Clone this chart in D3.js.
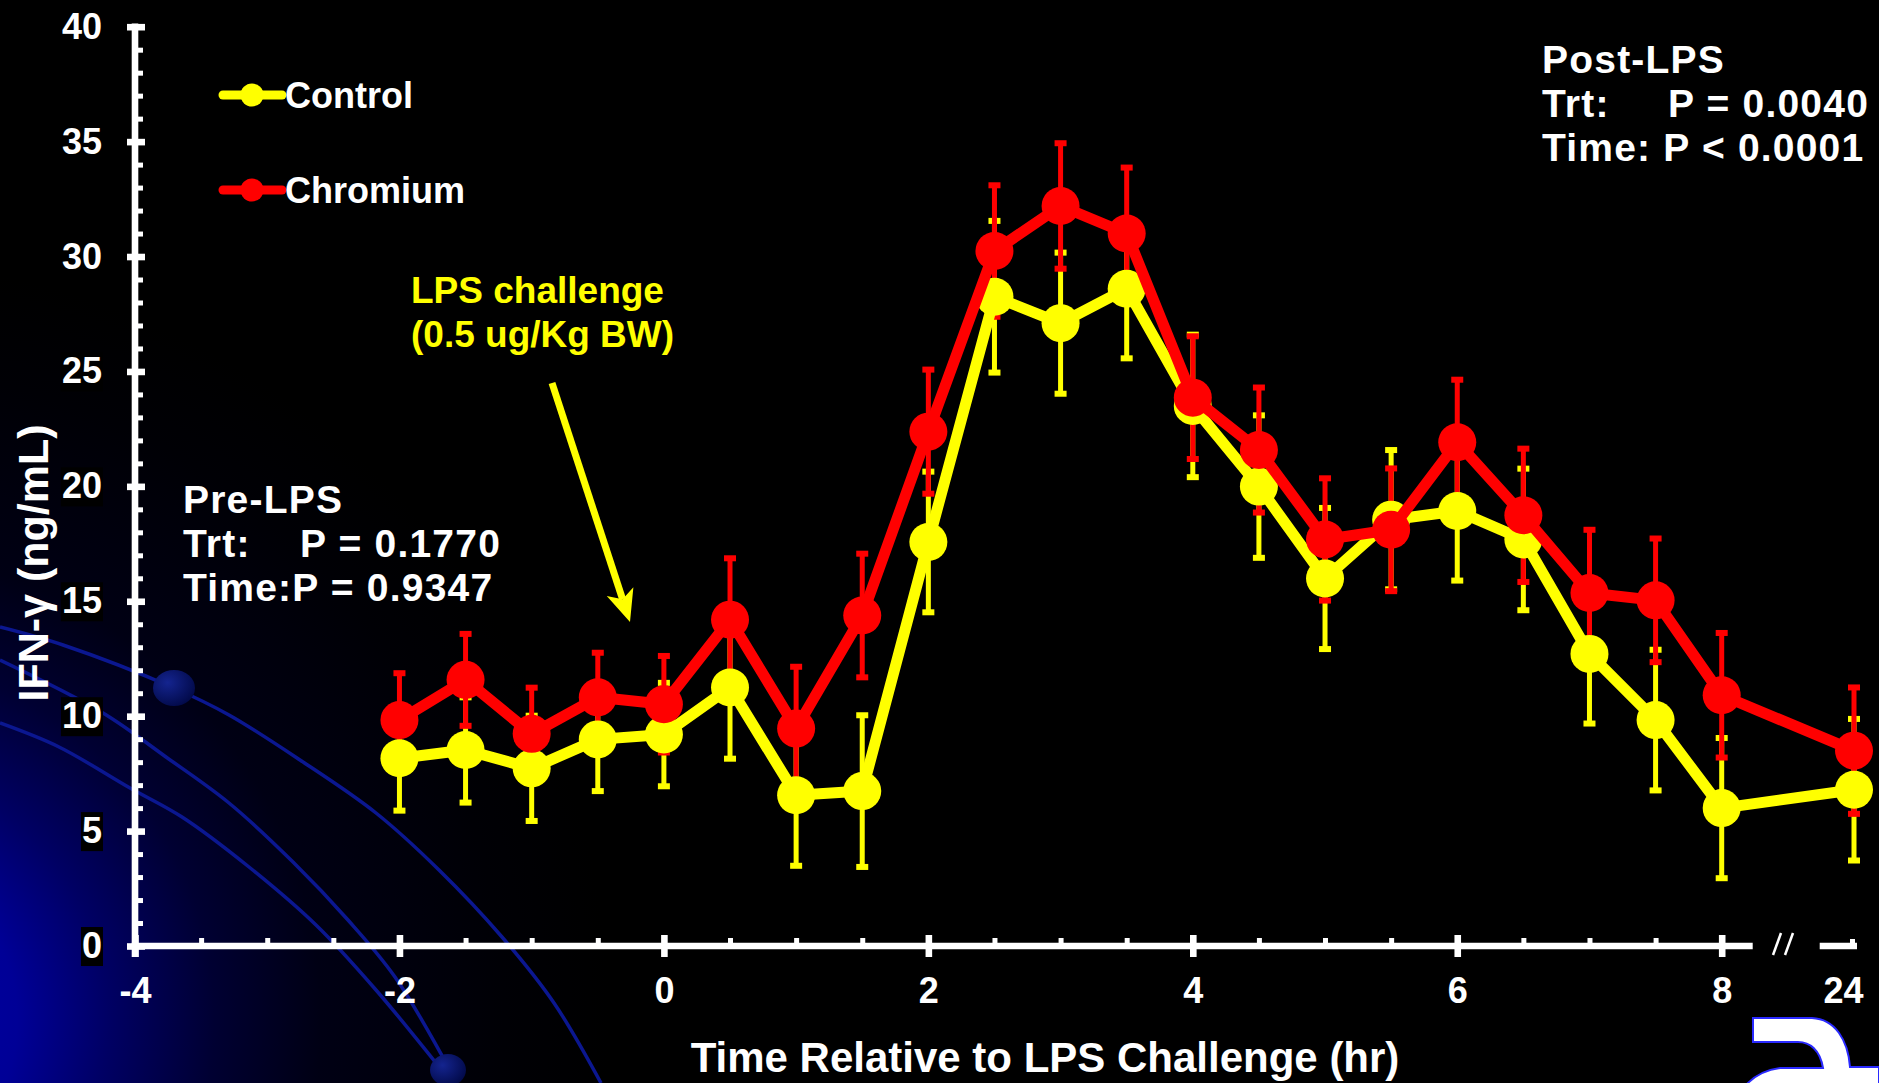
<!DOCTYPE html>
<html>
<head>
<meta charset="utf-8">
<script src="https://cdn.jsdelivr.net/npm/d3@7"></script>
<style>
  html, body { margin: 0; padding: 0; background: #000; overflow: hidden; }
  svg text { font-family: "Liberation Sans", Arial, sans-serif; font-weight: bold; }
</style>
</head>
<body>
<svg id="chart" width="1879" height="1083"></svg>
<script>
// ---- data: IFN-γ (ng/mL), mean ± SE, by time relative to LPS challenge (hr) ----
const times        = [-2, -1.5, -1, -0.5, 0, 0.5, 1, 1.5, 2, 2.5, 3, 3.5, 4, 4.5, 5, 5.5, 6, 6.5, 7, 7.5, 8, 24];
const controlMean  = [8.17, 8.53, 7.73, 8.99, 9.20, 11.25, 6.56, 6.74, 17.58, 28.25, 27.10, 28.60, 23.50, 19.99, 15.99, 18.55, 18.93, 17.69, 12.71, 9.83, 6.00, 6.80];
const controlSE    = [2.28, 2.29, 2.29, 2.25, 2.25, 3.10, 3.07, 3.30, 3.06, 3.30, 3.07, 3.03, 3.10, 3.10, 3.07, 3.03, 3.03, 3.08, 3.03, 3.06, 3.05, 3.08];
const chromiumMean = [9.83, 11.58, 9.23, 10.82, 10.52, 14.20, 9.46, 14.38, 22.38, 30.24, 32.20, 31.00, 23.86, 21.58, 17.69, 18.11, 21.92, 18.74, 15.36, 15.04, 10.91, 8.50];
const chromiumSE   = [2.04, 2.00, 2.01, 1.94, 2.10, 2.67, 2.69, 2.69, 2.70, 2.86, 2.73, 2.87, 2.67, 2.72, 2.66, 2.67, 2.72, 2.90, 2.75, 2.69, 2.71, 2.75];

const seriesNames  = ["Control", "Chromium"];
const seriesColors = ["#ffff00", "#ff0000"];

const xMajorTicks = [-4, -2, 0, 2, 4, 6, 8, 24];
const xMinorTicks = d3.range(-3.5, 8, 0.5).filter(v => v % 2 !== 0);
const yMajorTicks = [0, 5, 10, 15, 20, 25, 30, 35, 40];
const yMinorTicks = d3.range(0, 41).filter(v => v % 5 !== 0);

const xTitle = "Time Relative to LPS Challenge (hr)";
const yTitle = "IFN-γ (ng/mL)";

// ---- layout ----
const W = 1879, H = 1083;
const svg = d3.select("#chart");
const defs = svg.append("defs");

// broken time axis: -4..8 hr evenly spaced, 24 hr placed after the break
const x = d3.scaleLinear().domain([-4, 8, 24]).range([135, 1721.7, 1854]);
const y = d3.scaleLinear().domain([0, 40]).range([946, 26.7]);

// ---- background ----
const bg = defs.append("radialGradient").attr("id", "bgGlow")
  .attr("gradientUnits", "userSpaceOnUse")
  .attr("cx", -150).attr("cy", 1020).attr("r", 760);
[[0, "rgb(0,0,175)"], [0.22, "rgb(0,0,150)"], [0.34, "rgb(0,0,100)"], [0.48, "rgb(0,0,50)"],
 [0.62, "rgb(0,0,20)"], [0.86, "rgb(0,0,5)"], [1, "rgb(0,0,0)"]]
  .forEach(([o, c]) => bg.append("stop").attr("offset", o).attr("stop-color", c));

svg.append("rect").attr("width", W).attr("height", H).attr("fill", "#000");
svg.append("rect").attr("width", W).attr("height", H).attr("fill", "url(#bgGlow)");

// decorative orbit swooshes in the lower-left corner
const deco = svg.append("g").attr("class", "decor");
const swoosh = d3.line().curve(d3.curveCatmullRom);
const orbits = [
  [[0, 627], [63, 645], [174, 688], [229, 715], [300, 760], [376, 813], [439, 870], [502, 937], [554, 1003], [601, 1083]],
  [[0, 660], [103, 713], [166, 757], [229, 803], [293, 862], [348, 920], [395, 977], [451, 1072]],
  [[0, 723], [59, 747], [130, 788], [182, 817], [249, 867], [316, 925], [376, 990], [440, 1068]]
];
deco.selectAll("path").data(orbits).join("path")
  .attr("d", swoosh).attr("fill", "none")
  .attr("stroke", "#0b1790").attr("stroke-width", 3.5);

const ball = defs.append("radialGradient").attr("id", "ball")
  .attr("cx", "35%").attr("cy", "35%").attr("r", "70%");
ball.append("stop").attr("offset", 0).attr("stop-color", "#14248f");
ball.append("stop").attr("offset", 1).attr("stop-color", "#020a4a");
deco.append("ellipse").attr("cx", 174).attr("cy", 688).attr("rx", 21).attr("ry", 18).attr("fill", "url(#ball)");
deco.append("ellipse").attr("cx", 448).attr("cy", 1070).attr("rx", 18).attr("ry", 16).attr("fill", "url(#ball)");

// corner emblem
svg.append("path")
  .attr("d", "M1753,1018 L1812,1018 C1835,1019 1848,1040 1850,1067 L1879,1067 L1879,1085 L1746,1085 C1755,1075 1765,1070 1780,1068 L1823,1068 C1820,1050 1810,1042 1798,1042 L1753,1042 Z")
  .attr("fill", "#fff").attr("stroke", "#2a2aff").attr("stroke-width", 2);

// ---- axes ----
const axisColor = "#fff";
const plainNumber = d => String(d);

// Y axis
const yAxisG = svg.append("g").attr("transform", `translate(${x(-4)},0)`);
yAxisG.append("line")
  .attr("x1", 0).attr("x2", 0).attr("y1", y(40) - 3.3).attr("y2", y(0) + 11)
  .attr("stroke", axisColor).attr("stroke-width", 6.6);
const yMinor = yAxisG.append("g").call(d3.axisRight(y).tickValues(yMinorTicks).tickSize(8).tickFormat(""));
yMinor.select(".domain").remove();
yMinor.selectAll(".tick line").attr("stroke", axisColor).attr("stroke-width", 5);

const yMajor = yAxisG.append("g").call(d3.axisLeft(y).tickValues(yMajorTicks).tickSize(8).tickPadding(25).tickFormat(plainNumber));
yMajor.select(".domain").remove();
yMajor.selectAll(".tick line").attr("x1", 10).attr("stroke", axisColor).attr("stroke-width", 6.6);
yMajor.selectAll(".tick text")
  .attr("fill", axisColor).attr("font-size", 36)
  .attr("font-family", "Liberation Sans, Arial, sans-serif").attr("font-weight", "bold");
// black plates behind the value labels
yMajor.selectAll(".tick").each(function () {
  const t = d3.select(this).select("text");
  const b = t.node().getBBox();
  d3.select(this).insert("rect", "text")
    .attr("x", b.x - 1).attr("y", b.y + 2).attr("width", b.width + 2).attr("height", b.height - 2)
    .attr("fill", "#000");
});

// X axis (with break between 8 and 24 hr)
const xAxisG = svg.append("g").attr("transform", `translate(0,${y(0)})`);
xAxisG.append("line")
  .attr("x1", x(-4) - 3.3).attr("x2", x(8) + 31).attr("y1", 0).attr("y2", 0)
  .attr("stroke", axisColor).attr("stroke-width", 6.6);
xAxisG.append("line")
  .attr("x1", x(8) + 98).attr("x2", x(24) + 3).attr("y1", 0).attr("y2", 0)
  .attr("stroke", axisColor).attr("stroke-width", 6.6);
// break marks
[[1773, 1781], [1785, 1793]].forEach(([a, b]) => {
  xAxisG.append("line").attr("x1", a).attr("y1", 9).attr("x2", b).attr("y2", -13)
    .attr("stroke", axisColor).attr("stroke-width", 2.5);
});

const xMinor = xAxisG.append("g").call(d3.axisTop(x).tickValues(xMinorTicks).tickSize(8).tickFormat(""));
xMinor.select(".domain").remove();
xMinor.selectAll(".tick line").attr("stroke", axisColor).attr("stroke-width", 5);

const xMajor = xAxisG.append("g").call(d3.axisBottom(x).tickValues(xMajorTicks).tickSize(11).tickPadding(20).tickFormat(plainNumber));
xMajor.select(".domain").remove();
xMajor.selectAll(".tick line").attr("y1", -11).attr("stroke", axisColor).attr("stroke-width", 6.6);
xMajor.selectAll(".tick text")
  .attr("fill", axisColor).attr("font-size", 36)
  .attr("font-family", "Liberation Sans, Arial, sans-serif").attr("font-weight", "bold");
// the 24 hr tick sits at the end of the broken axis
xMajor.selectAll(".tick").filter(d => d === 24)
  .call(g => g.select("line").attr("y1", -7).attr("y2", 0).attr("transform", "translate(-2,0)").attr("stroke-width", 5))
  .call(g => g.select("text").attr("dx", -11));

// axis titles
svg.append("text")
  .attr("transform", `translate(48,563) rotate(-90)`)
  .attr("text-anchor", "middle").attr("font-size", 43).attr("fill", "#fff")
  .text(yTitle);
svg.append("text")
  .attr("x", 1045).attr("y", 1072)
  .attr("text-anchor", "middle").attr("font-size", 42).attr("fill", "#fff")
  .text(xTitle);

// ---- annotations ----
const note = svg.append("g");
note.append("text").attr("font-size", 37).attr("fill", "#ffff00")
  .call(t => {
    t.append("tspan").attr("x", 411).attr("y", 303).text("LPS challenge");
    t.append("tspan").attr("x", 411).attr("y", 347).text("(0.5 ug/Kg BW)");
  });

// arrow pointing at the challenge time
{
  const start = [552, 383], tip = [630, 622];
  const len = Math.hypot(tip[0] - start[0], tip[1] - start[1]);
  const d = [(tip[0] - start[0]) / len, (tip[1] - start[1]) / len];
  const p = [d[1], -d[0]];
  const headLen = 32, half = 14, notch = 8;
  const base = [tip[0] - headLen * d[0], tip[1] - headLen * d[1]];
  const back = [base[0] + notch * d[0], base[1] + notch * d[1]];
  note.append("line")
    .attr("x1", start[0]).attr("y1", start[1]).attr("x2", back[0]).attr("y2", back[1])
    .attr("stroke", "#ffff00").attr("stroke-width", 7);
  note.append("polygon")
    .attr("points", [tip,
      [base[0] + half * p[0], base[1] + half * p[1]],
      back,
      [base[0] - half * p[0], base[1] - half * p[1]]].map(q => q.join(",")).join(" "))
    .attr("fill", "#ffff00");
}

// statistics blocks: each block is one text element built from positioned runs
const statBlock = (runs) => {
  const t = note.append("text").attr("font-size", 39).attr("letter-spacing", 1.2).attr("fill", "#fff");
  runs.forEach(([rx, ry, s]) => t.append("tspan").attr("x", rx).attr("y", ry).text(s));
};
statBlock([
  [183, 513, "Pre-LPS"],
  [183, 557, "Trt:"],
  [300, 557, "P = 0.1770"],
  [183, 601, "Time:P = 0.9347"]
]);
statBlock([
  [1542, 73, "Post-LPS"],
  [1542, 117, "Trt:"],
  [1668, 117, "P = 0.0040"],
  [1542, 161, "Time: P < 0.0001"]
]);

// ---- legend ----
const legend = svg.append("g");
seriesNames.forEach((name, i) => {
  const ly = 95 + i * 95;
  legend.append("line").attr("x1", 223).attr("x2", 282).attr("y1", ly).attr("y2", ly)
    .attr("stroke", seriesColors[i]).attr("stroke-width", 9).attr("stroke-linecap", "round");
  legend.append("circle").attr("cx", 252).attr("cy", ly).attr("r", 11.5).attr("fill", seriesColors[i]);
  legend.append("text").attr("x", 285).attr("y", ly + 13)
    .attr("font-size", 36).attr("fill", "#fff").text(name);
});

// ---- series ----
const series = [
  { name: seriesNames[0], color: seriesColors[0], pts: times.map((t, i) => ({ t, v: controlMean[i], se: controlSE[i] })) },
  { name: seriesNames[1], color: seriesColors[1], pts: times.map((t, i) => ({ t, v: chromiumMean[i], se: chromiumSE[i] })) }
];

const plot = svg.append("g");
const capW = 12, capH = 6;

// error bars (Control first, Chromium over it)
series.forEach(s => {
  const eg = plot.append("g").attr("class", "err-" + s.name);
  const bars = eg.selectAll("g").data(s.pts).join("g");
  bars.append("line")
    .attr("x1", d => x(d.t)).attr("x2", d => x(d.t))
    .attr("y1", d => y(d.v + d.se)).attr("y2", d => y(d.v - d.se))
    .attr("stroke", s.color).attr("stroke-width", 5);
  bars.append("rect")
    .attr("x", d => x(d.t) - capW / 2).attr("y", d => y(d.v + d.se) - capH / 2)
    .attr("width", capW).attr("height", capH).attr("fill", s.color);
  bars.append("rect")
    .attr("x", d => x(d.t) - capW / 2).attr("y", d => y(d.v - d.se) - capH / 2)
    .attr("width", capW).attr("height", capH).attr("fill", s.color);
});

// lines and markers
const path = d3.line().x(d => x(d.t)).y(d => y(d.v));
series.forEach(s => {
  const g = plot.append("g").attr("class", "series-" + s.name);
  g.append("path").attr("d", path(s.pts))
    .attr("fill", "none").attr("stroke", s.color)
    .attr("stroke-width", 11).attr("stroke-linejoin", "round");
  g.selectAll("circle").data(s.pts).join("circle")
    .attr("cx", d => x(d.t)).attr("cy", d => y(d.v)).attr("r", 19)
    .attr("fill", s.color);
});
</script>
</body>
</html>
